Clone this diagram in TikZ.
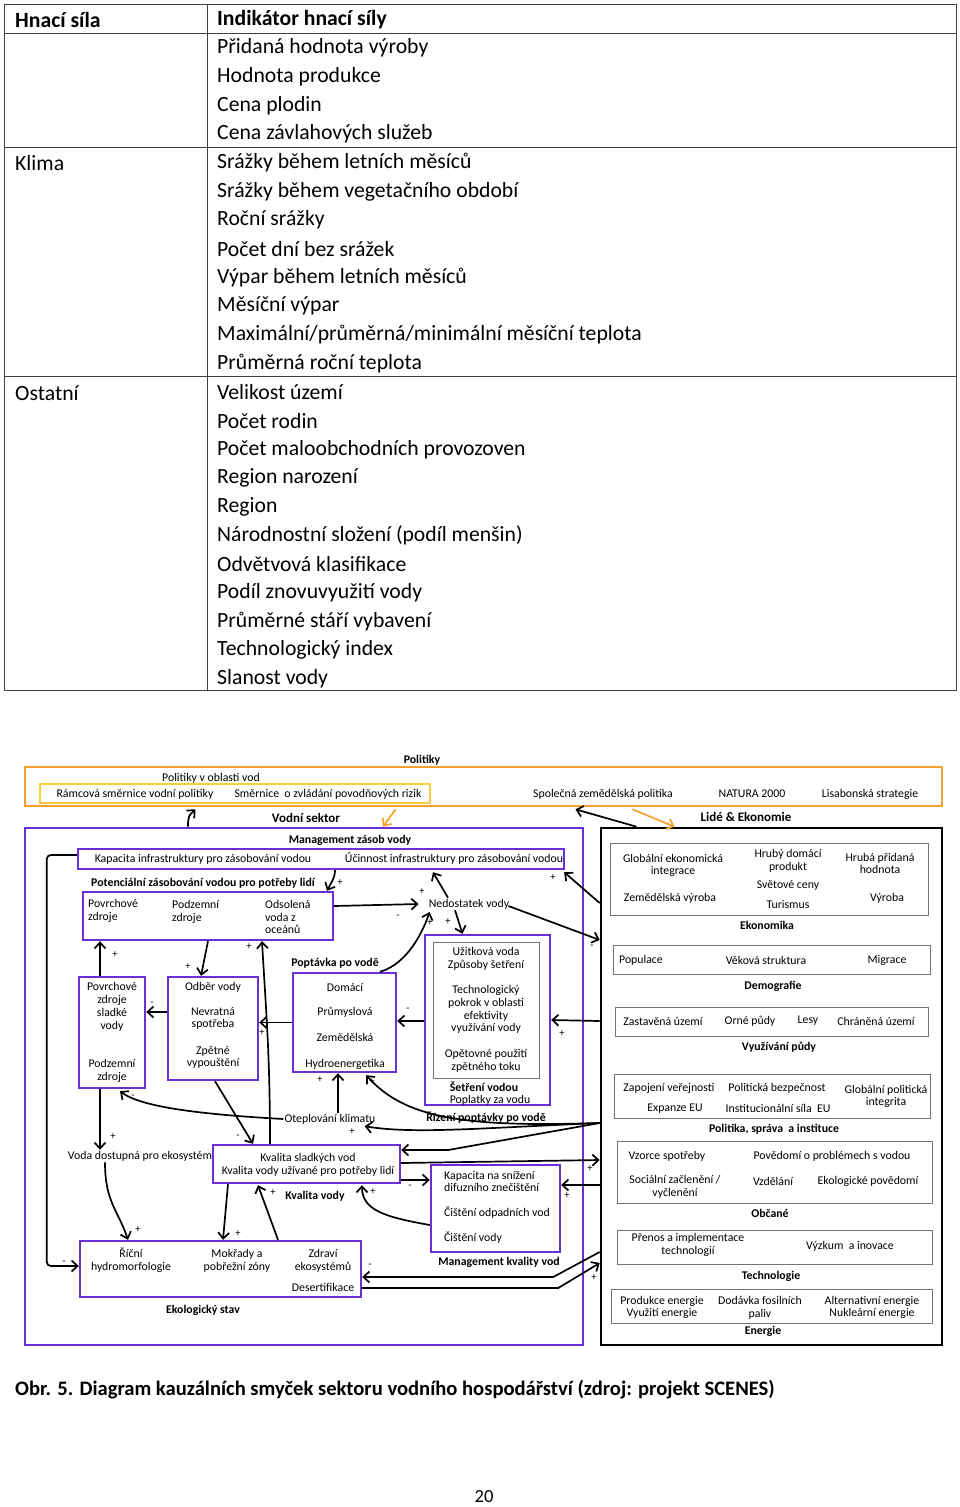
\documentclass[tikz,border=0pt]{standalone}
\usepackage{fontspec}
\setmainfont{Carlito}
\usetikzlibrary{arrows.meta, positioning, calc, fit}

\definecolor{vio}{RGB}{106,48,214}
\definecolor{polorange}{RGB}{242,162,44}
\definecolor{polyellow}{RGB}{244,206,64}

\tikzset{
  tbl/.style={font=\fontsize{21.7}{24}\selectfont, anchor=west, inner sep=0pt},
  tline/.style={draw=black!75, line width=0.9pt},
  lbl/.style={font=\fontsize{11.8}{12.8}\selectfont, inner sep=1pt, align=center},
  hdr/.style={lbl, font=\fontsize{11.8}{12.8}\selectfont\bfseries},
  hdrbig/.style={lbl, font=\fontsize{13}{14}\selectfont\bfseries},
  sgn/.style={font=\fontsize{10.5}{10.5}\selectfont, inner sep=0pt},
  vbox/.style={draw=vio, line width=2.4pt, inner sep=0pt},
  gbox/.style={draw=black!55, line width=0.8pt, inner sep=0pt},
  arr/.style={-{Straight Barb[length=6pt,width=11pt]}, line width=1.7pt},
  oarr/.style={arr, draw=polorange}
}

\begin{document}
\begin{tikzpicture}[x=1pt, y=-1pt]
    \useasboundingbox (0,0) rectangle (960,1507);

    % Table of driving forces
    \draw[tline] (4,4) rectangle (956,690);
    \draw[tline] (207,4) -- (207,690);
    \draw[tline] (4,33) -- (956,33);
    \draw[tline] (4,147.5) -- (956,147.5);
    \draw[tline] (4,376.5) -- (956,376.5);

    \node[tbl, font=\fontsize{21.7}{24}\selectfont\bfseries] (hsila) at (15,19.5) {Hnací síla};
    \node[tbl, font=\fontsize{21.7}{24}\selectfont\bfseries] (indik) at (217,19.5) {Indikátor hnací síly};
    \node[tbl] (klima) at (15,163.5) {Klima};
    \node[tbl] (ostat) at (15,393.5) {Ostatní};
    \foreach \t [count=\i] in {Přidaná hodnota výroby, Hodnota produkce, Cena plodin,
        Cena závlahových služeb, Srážky během letních měsíců, Srážky během vegetačního období,
        Roční srážky, Počet dní bez srážek, Výpar během letních měsíců, Měsíční výpar,
        Maximální/průměrná/minimální měsíční teplota, Průměrná roční teplota, Velikost území,
        Počet rodin, Počet maloobchodních provozoven, Region narození, Region,
        Národnostní složení (podíl menšin), Odvětvová klasifikace, Podíl znovuvyužití vody,
        Průměrné stáří vybavení, Technologický index, Slanost vody}
        \node[tbl] (ind\i) at (217,{19.5+28.65*\i}) {\t};

    % Politiky
    \node[hdr] (polt) at (422,760) {Politiky};
    \node[draw=polorange, line width=2.6pt, inner sep=0pt, fit={(25,767) (942,806)}] (pol) {};
    \node[draw=polyellow, line width=2pt, inner sep=0pt, fit={(40,784) (430,803)}] (polvod) {};
    \node[lbl] (polvodt) at (211,778) {Politiky v oblasti vod};
    \node[lbl] (rsvp) at (135,794) {Rámcová směrnice vodní politiky};
    \node[lbl] (szpr) at (328,794) {Směrnice\ \ o zvládání povodňových rizik};
    \node[lbl] (szp) at (603,794) {Společná zemědělská politika};
    \node[lbl] (natura) at (752,794) {NATURA 2000};
    \node[lbl] (lisab) at (870,794) {Lisabonská strategie};

    % Sectors
    \node[hdrbig] (vodt) at (306,818) {Vodní sektor};
    \node[draw=vio, line width=2.6pt, inner sep=0pt, fit={(25,828) (583,1345)}] (vod) {};
    \node[hdrbig] (lidt) at (746,817) {Lidé \& Ekonomie};
    \node[draw=black, line width=2.6pt, inner sep=0pt, fit={(601,828) (942,1345)}] (lid) {};

    % Vodni sektor - boxes
    \node[hdr] (mzvt) at (350,840) {Management zásob vody};
    \node[vbox, fit={(78,849) (564,869)}] (kap) {};
    \node[lbl] (kapi) at (203,859) {Kapacita infrastruktury pro zásobování vodou};
    \node[lbl] (ucin) at (454,859) {Účinnost infrastruktury pro zásobování vodou};

    \node[hdr] (pott) at (203,883) {Potenciální zásobování vodou pro potřeby lidí};
    \node[vbox, fit={(83,892) (333,940)}] (pot) {};
    \node[lbl, align=left, anchor=west] (povz) at (87,911) {Povrchové\\zdroje};
    \node[lbl, align=left, anchor=west] (podz) at (171,912) {Podzemní\\zdroje};
    \node[lbl, align=left, anchor=west] (odso) at (264,917) {Odsolená\\voda z\\oceánů};

    \node[vbox, fit={(79,977) (145,1088)}] (slad) {};
    \node[lbl] (sladt) at (112,1007) {Povrchové\\zdroje\\sladké\\vody};
    \node[lbl] (sladp) at (112,1071) {Podzemní\\zdroje};

    \node[vbox, fit={(168,977) (258,1080)}] (odb) {};
    \node[lbl] (odbv) at (213,987) {Odběr vody};
    \node[lbl] (nevr) at (213,1018.5) {Nevratná\\spotřeba};
    \node[lbl] (zpet) at (213,1057.5) {Zpětné\\vypouštění};

    \node[hdr] (popt) at (335,963) {Poptávka po vodě};
    \node[vbox, fit={(293,973) (396,1072)}] (pop) {};
    \node[lbl] (domac) at (345,987) {Domácí};
    \node[lbl] (prum) at (345,1012) {Průmyslová};
    \node[lbl] (zemed) at (345,1037) {Zemědělská};
    \node[lbl] (hydro) at (345,1064) {Hydroenergetika};

    \node[lbl] (ned) at (469,904) {Nedostatek vody};

    \node[vbox, fit={(425,935) (550,1105)}] (riz) {};
    \node[gbox, fit={(433,942) (539,1078)}] (rizin) {};
    \node[lbl] (uzit) at (486,958.5) {Užitková voda\\Způsoby šetření};
    \node[lbl] (tpok) at (486,1009.5) {Technologický\\pokrok v oblasti\\efektivity\\využívání vody};
    \node[lbl] (opet) at (486,1060.5) {Opětovné použití\\zpětného toku};
    \node[hdr] (setr) at (484,1087) {Šetření vodou};
    \node[lbl] (popl) at (490,1100) {Poplatky za vodu};
    \node[hdr] (rizt) at (486,1118) {Řízení poptávky po vodě};

    \node[lbl] (ote) at (330,1119) {Oteplování klimatu};
    \node[lbl] (vda) at (140,1156) {Voda dostupná pro ekosystém};

    \node[vbox, fit={(213,1145) (400,1183)}] (kval) {};
    \node[lbl] (kvalt) at (308,1165) {Kvalita sladkých vod\\Kvalita vody užívané pro potřeby lidí};
    \node[hdr] (kvall) at (315,1196) {Kvalita vody};

    \node[vbox, fit={(431,1165) (560,1252)}] (mkv) {};
    \node[lbl, align=left, anchor=west] (difz) at (443,1181.5) {Kapacita na snížení\\difuzního znečištění};
    \node[lbl, anchor=west] (cov) at (443,1213) {Čištění odpadních vod};
    \node[lbl, anchor=west] (cvod) at (443,1238) {Čištění vody};
    \node[hdr] (mkvt) at (499,1262) {Management kvality vod};

    \node[vbox, fit={(80,1241) (361,1297)}] (eko) {};
    \node[lbl] (rhm) at (131,1260.5) {Říční\\hydromorfologie};
    \node[lbl] (mokr) at (237,1260.5) {Mokřady a\\pobřežní zóny};
    \node[lbl] (zdrav) at (323,1260.5) {Zdraví\\ekosystémů};
    \node[lbl] (dese) at (323,1287) {Desertifikace};
    \node[hdr] (ekot) at (203,1310) {Ekologický stav};

    % Lide & Ekonomie - boxes
    \node[gbox, fit={(610,843) (928,915)}] (ekon) {};
    \node[lbl] (gei) at (673,865.5) {Globální ekonomická\\integrace};
    \node[lbl] (hdp) at (788,861) {Hrubý domácí\\produkt};
    \node[lbl] (svc) at (788,885) {Světové ceny};
    \node[lbl] (zvy) at (670,898) {Zemědělská výroba};
    \node[lbl] (tur) at (788,904) {Turismus};
    \node[lbl] (hph) at (880,863.5) {Hrubá přidaná\\hodnota};
    \node[lbl] (vyr) at (887,898) {Výroba};
    \node[hdr] (ekonl) at (767,925) {Ekonomika};

    \node[gbox, fit={(613,945) (930,974)}] (dem) {};
    \node[lbl] (popul) at (641,960) {Populace};
    \node[lbl] (vek) at (766,960) {Věková struktura};
    \node[lbl] (migr) at (887,960) {Migrace};
    \node[hdr] (deml) at (773,986) {Demografie};

    \node[gbox, fit={(615,1007) (928,1036)}] (puda) {};
    \node[lbl] (zast) at (663,1021) {Zastavěná území};
    \node[lbl] (orne) at (750,1021) {Orné půdy};
    \node[lbl] (lesy) at (808,1021) {Lesy};
    \node[lbl] (chran) at (876,1021) {Chráněná území};
    \node[hdr] (pudal) at (779,1047) {Využívání půdy};

    \node[gbox, fit={(614,1074) (930,1118)}] (polit) {};
    \node[lbl] (zapv) at (669,1088) {Zapojení veřejnosti};
    \node[lbl] (polb) at (777,1088) {Politická bezpečnost};
    \node[lbl] (glpi) at (886,1096.5) {Globální politická\\integrita};
    \node[lbl] (expeu) at (675,1109) {Expanze EU};
    \node[lbl] (insteu) at (778,1108) {Institucionální síla\ \ EU};
    \node[hdr] (politl) at (774,1129) {Politika, správa\ \ a instituce};

    \node[gbox, fit={(617,1141) (932,1203)}] (obc) {};
    \node[lbl] (vzsp) at (667,1156) {Vzorce spotřeby};
    \node[lbl] (povp) at (832,1156) {Povědomí o problémech s vodou};
    \node[lbl] (socz) at (675,1186.5) {Sociální začlenění /\\vyčlenění};
    \node[lbl] (vzd) at (773,1181) {Vzdělání};
    \node[lbl] (ekop) at (868,1181) {Ekologické povědomí};
    \node[hdr] (obcl) at (770,1213) {Občané};

    \node[gbox, fit={(617,1230) (932,1264)}] (tech) {};
    \node[lbl] (pren) at (688,1245) {Přenos a implementace\\technologií};
    \node[lbl] (vyzk) at (850,1246) {Výzkum\ \ a inovace};
    \node[hdr] (techl) at (771,1276) {Technologie};

    \node[gbox, fit={(611,1289) (932,1323)}] (ener) {};
    \node[lbl] (prod) at (662,1307.5) {Produkce energie\\Využití energie};
    \node[lbl] (fosil) at (760,1307.5) {Dodávka fosilních\\paliv};
    \node[lbl] (alter) at (872,1307.5) {Alternativní energie\\Nukleární energie};
    \node[hdr] (enerl) at (763,1331) {Energie};

    % Links between sectors and policies
    \draw[arr] ($(vod.north)+(-116,0)$) .. controls +(0,-12) and +(-6,6) .. ($(pol.south)+(-288,2)$);
    \draw[oarr] ($(pol.south)+(-88,2)$) -- ($(vod.north)+(79,0)$);
    \draw[arr] ($(lid.north)+(-135,0)$) -- ($(pol.south)+(92,2)$);
    \draw[oarr] ($(pol.south)+(149,2)$) -- ($(lid.north)+(-97,0)$);

    % Causal loops
    \draw[arr, rounded corners=4pt] ($(kap.west)+(0,-4)$) -- ++(-30,0) |- ($(eko.west)+(0,-3)$);
    \draw[arr] ($(slad.north)+(-12,0)$) -- ($(pot.south)+(-108,0)$);
    \draw[arr] ($(odb.west)+(0,-16.5)$) -- ($(slad.east)+(0,-20.5)$);
    \draw[arr] (pot.south) -- ($(odb.north)+(-12,0)$);
    \draw[arr] (pop.west) -- ($(odb.east)+(0,-6)$);
    \draw[arr] ($(kval.north)+(-36.5,0)$) .. controls +(0,-90) and +(4,70) .. ($(pot.south)+(54,0)$);
    \draw[arr] ($(odb.south)+(2,0)$) -- ($(kval.north)+(-53.5,0)$);
    \draw[arr] ($(pot.east)+(0,-10)$) -- ($(ned.west)+(-9,0)$);
    \draw[arr] ($(ned.north)+(-21,0)$) -- ($(kap.south)+(112,2)$);
    \draw[arr] ($(ned.south)+(-14,0)$) -- ($(riz.north)+(-25,0)$);
    \draw[arr] ($(ned.east)+(-2,2)$) -- ($(lid.west)+(0,-146.5)$);
    \draw[arr] ($(lid.west)+(0,-183.5)$) -- ($(kap.south east)+(-1,2)$);
    \draw[arr] ($(pop.north)+(35.5,0)$) .. controls +(28,-8) and +(-6,18) .. ($(ned.west)+(2,8)$);
    \draw[arr] ($(riz.west)+(0,1)$) -- ($(pop.east)+(0,-1.5)$);
    \draw[arr] ($(lid.west)+(0,-65.5)$) -- (riz.east);
    \draw[arr] ($(ote.north)+(8,0)$) -- ($(pop.south)+(-6.5,0)$);
    \draw[arr] ($(lid.west)+(0,36.5)$) .. controls +(-130,4) and +(40,45) .. ($(pop.south east)+(-31,2)$);
    \draw[arr] ($(lid.west)+(0,36.5)$) .. controls +(-120,5) and +(50,8) .. ($(ote.south east)+(-12,1)$);
    \draw[arr] ($(lid.west)+(0,36.5)$) -- ($(kval.east)+(47,-14)$) -- ($(kval.east)+(0,-14)$);
    \draw[arr] ($(kval.east)+(0,-1)$) -- ($(lid.west)+(0,73.5)$);
    \draw[arr] ($(kval.east)+(0,16)$) -- ($(mkv.west)+(0,-28.5)$);
    \draw[arr] ($(lid.west)+(0,98.5)$) -- ($(mkv.east)+(0,-23.5)$);
    \draw[arr] ($(mkv.west)+(0,16.5)$) .. controls +(-45,-8) and +(0,25) .. ($(kval.south)+(55.5,1)$);
    \draw[arr] ($(lid.west)+(0,165.5)$) -- ($(eko.east)+(191,8)$) -- ($(eko.east)+(0,8)$);
    \draw[arr] ($(eko.east)+(0,19)$) -- ($(eko.east)+(196,19)$) -- ($(lid.west)+(0,176.5)$);
    \draw[arr] (ote.west) .. controls +(-90,-5) and +(20,15) .. ($(slad.south)+(8,2)$);
    \draw[arr] ($(slad.south)+(-12,0)$) -- ($(vda.north)+(-40,0)$);
    \draw[arr] ($(vda.south)+(-35,0)$) .. controls +(0,40) and +(-10,-30) .. ($(eko.north)+(-92.5,0)$);
    \draw[arr] ($(kval.south)+(-78.5,0)$) -- ($(eko.north)+(2.5,0)$);
    \draw[arr] ($(eko.north)+(57.5,0)$) -- ($(kval.south)+(-48.5,1)$);
    \draw[arr] ($(kap.south)+(14,0)$) .. controls +(0,8) and +(4,-8) .. ($(pot.north)+(119,0)$);

    % Polarity signs
    \foreach \x/\y/\s [count=\k] in {64/1263/-, 115/955/+, 152/1004/-, 188/967/+, 262/1033/+,
        249/947/+, 238/1137/-, 398/917/-, 422/892/+, 448/922/+, 592/947/-, 553/878/+,
        430/923/+, 408/1010/-, 562/1034/+, 320/1080/+, 372/1082/+, 352/1132/+, 590/1169/+,
        410/1187/-, 567/1196/+, 373/1192/+, 370/1266/-, 594/1278/+, 133/1097/-, 113/1137/+,
        138/1230/+, 238/1234/+, 273/1193/+, 340/883/+}
        \node[sgn] (sg\k) at (\x,\y) {\s};

    % Caption and page number
    \node[anchor=west, inner sep=0pt, font=\fontsize{20.6}{22}\selectfont\bfseries] (capt) at (15,1390)
        {Obr. 5. Diagram kauzálních smyček sektoru vodního hospodářství (zdroj: projekt SCENES)};
    \node[font=\fontsize{18.5}{20}\selectfont] (pgno) at (484,1497) {20};
\end{tikzpicture}
\end{document}
